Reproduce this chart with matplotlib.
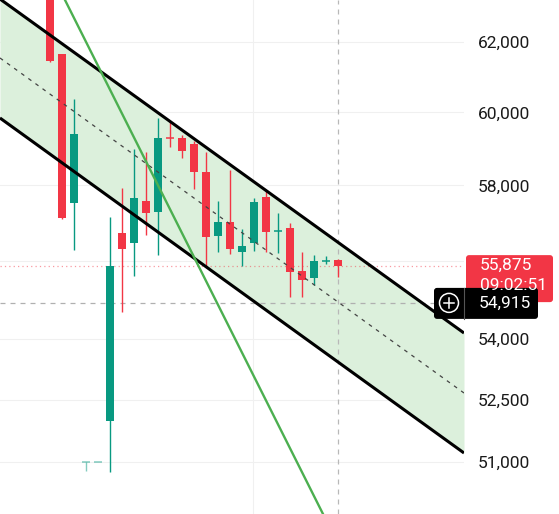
import matplotlib
matplotlib.use('Agg')
import matplotlib.pyplot as plt
from matplotlib.patches import FancyBboxPatch, Circle
from matplotlib.ticker import FixedLocator, NullLocator, FuncFormatter

plt.rcParams['font.family'] = ['Roboto', 'DejaVu Sans']

# ---- data ----
opens  = [64400, 61650, 57530, 51000, 51000, 51980, 56730, 56467, 57580, 57287,
          59300, 59290, 59127, 58362, 56651, 57021, 56230, 56467, 57688, 56783,
          56862, 55736, 55555, 55995, 56021]
highs  = [64600, 61650, 60380, 51000, 51000, 57150, 57930, 58990, 58908, 59847,
          59735, 59375, 59210, 58908, 57580, 58417, 56835, 57661, 57876, 57260,
          56994, 56230, 56152, 56126, 56040]
lows   = [61425, 57100, 56280, 50790, 51000, 50760, 54683, 55606, 56677, 56152,
          59044, 58744, 57902, 55840, 56230, 56178, 55865, 56257, 56230, 56204,
          55065, 55065, 55374, 55918, 55580]
closes = [61455, 57130, 59400, 51000, 51000, 55860, 56309, 57661, 57260, 59293,
          59280, 58935, 58362, 56625, 57021, 56309, 56388, 57553, 56757, 56790,
          55709, 55502, 55995, 56000, 55875]
faded = [3, 4]

chan_x = [-4.17, 34.5]
chan_upper = [63252, 54151]
chan_mid = [61541, 52661]
chan_lower = [59847, 51212]
trend_x = [0.5, 23.5]
trend_y = [63752, 49366]

y_ticks = [51000, 52500, 54000, 56000, 58000, 60000, 62000]
hidden_tick = 56000   # its label sits under the live price tag
last_price = 55875
last_time = "09:02:51"
cross_price = 54915
cross_x = 24
vgrid_x = [16.92]

GREEN = '#089981'
RED = '#f23645'

fig = plt.figure(figsize=(5.59, 5.14), dpi=100)
ax = fig.add_axes([0, 0, 464 / 559, 1])
ax.set_yscale('log')
ax.set_xlim(-4.1667, 34.5)
ax.set_ylim(49779, 63223)

for s in ax.spines.values():
    s.set_visible(False)
ax.set_xticks([])
ax.yaxis.tick_right()
ax.yaxis.set_major_locator(FixedLocator(y_ticks))
ax.yaxis.set_minor_locator(NullLocator())
ax.yaxis.set_major_formatter(
    FuncFormatter(lambda v, p: "" if int(round(v)) == hidden_tick else f"{int(round(v)):,}"))
ax.tick_params(axis='y', length=0, pad=10, labelsize=12.5, labelcolor='#1a1a1a')

# grid
for t in y_ticks:
    ax.axhline(t, color='#f0f0f0', lw=0.8, zorder=0)
for gx in vgrid_x:
    ax.axvline(gx, color='#f0f0f0', lw=0.8, zorder=0)

# channel fill
ax.fill_between(chan_x, chan_lower, chan_upper, color='#dcf0dc', zorder=1, lw=0)

# candles
bw = 0.69
for i, (o, h, l, c) in enumerate(zip(opens, highs, lows, closes)):
    col = GREEN if c >= o else RED
    alpha = 0.5 if i in faded else 1.0
    if h > l:
        ax.vlines(i, l, h, color=col, lw=1.0, alpha=alpha, zorder=3)
    lo, hi = min(o, c), max(o, c)
    if hi - lo < 30:
        ax.hlines((o + c) / 2, i - bw / 2, i + bw / 2, color=col, lw=1.1, alpha=alpha, zorder=3)
    else:
        ax.bar(i, hi - lo, bottom=lo, width=bw, color=col, lw=0, alpha=alpha, zorder=3)

# channel lines
ax.plot(chan_x, chan_upper, color='black', lw=2.2, zorder=5, solid_capstyle='butt')
ax.plot(chan_x, chan_lower, color='black', lw=2.2, zorder=5, solid_capstyle='butt')
ax.plot(chan_x, chan_mid, color='#444444', lw=0.9, ls=(0, (3, 4)), zorder=5)
ax.plot(trend_x, trend_y, color='#4caf50', lw=1.7, zorder=5)

# price lines and crosshair
ax.axhline(last_price, color=RED, lw=0.9, ls=(0, (1, 2.5)), alpha=0.5, zorder=2)
ax.axhline(cross_price, color='#b0b0b0', lw=0.9, ls=(0, (4, 4)), zorder=2)
ax.axvline(cross_x, color='#b8b8b8', lw=0.9, ls=(0, (4, 4)), zorder=2)

# ---- overlay for price tags (pixel coordinates) ----
fig.canvas.draw()
H = 514


def ypix(price):
    return H - ax.transData.transform((0, price))[1]


ov = fig.add_axes([0, 0, 1, 1], zorder=10)
ov.set_xlim(0, 559)
ov.set_ylim(H, 0)
ov.axis('off')
ov.patch.set_alpha(0)

yl = ypix(last_price)
red_tag = FancyBboxPatch((466, yl - 10.5), 87, 47, boxstyle='round,pad=0,rounding_size=3',
                         fc=RED, ec='none')
ov.add_patch(red_tag)
ov.text(480, yl, f"{last_price:,}", color='white', fontsize=12.5, va='center', ha='left')
ov.text(480, yl + 20, last_time, color='white', fontsize=12.5, va='center', ha='left')

yc = ypix(cross_price)
blk = FancyBboxPatch((434, yc - 15), 104, 31, boxstyle='round,pad=0,rounding_size=3',
                     fc='black', ec='none')
ov.add_patch(blk)
ov.plot([464, 464], [yc - 15, yc + 16], color='#555555', lw=0.8)
ov.add_patch(Circle((449, yc), 9.5, fc='none', ec='white', lw=1.1))
ov.plot([444, 454], [yc, yc], color='white', lw=1.1)
ov.plot([449, 449], [yc - 5, yc + 5], color='white', lw=1.1)
ov.text(479, yc, f"{cross_price:,}", color='white', fontsize=12.5, va='center', ha='left')

fig.savefig('out.png', dpi=100)
